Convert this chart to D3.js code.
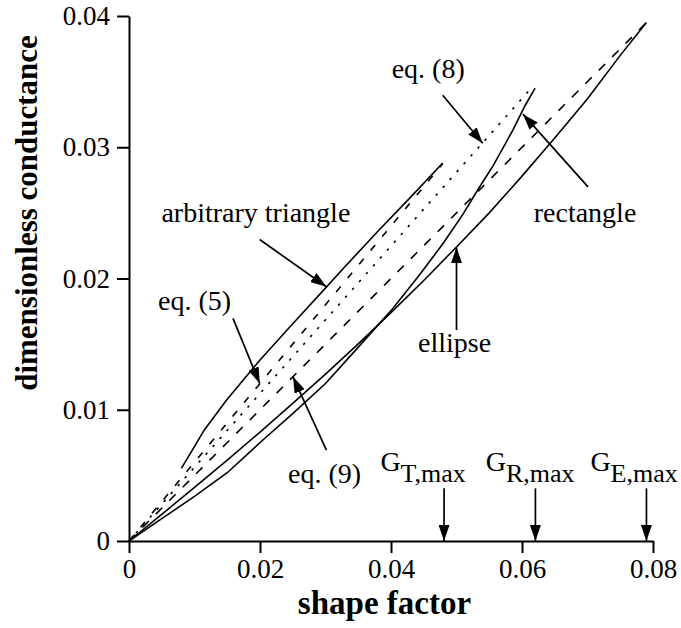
<!DOCTYPE html>
<html>
<head>
<meta charset="utf-8">
<script src="https://cdn.jsdelivr.net/npm/d3@7"></script>
<style>
  body { margin: 0; background: #fff; }
  svg text { font-family: "Liberation Serif", "Times New Roman", "DejaVu Serif", serif; fill: #000; }
</style>
</head>
<body>
<svg id="chart" width="681" height="628"></svg>
<script>
// shape factor G vs dimensionless conductance g
const xTicks = [0, 0.02, 0.04, 0.06, 0.08];
const yTicks = [0, 0.01, 0.02, 0.03, 0.04];

// arbitrary triangle (upper bound), solid
const triG = [0.0080, 0.0115, 0.0149, 0.0200, 0.0250, 0.0302, 0.0325, 0.0380, 0.0430, 0.0479];
const triC = [0.00554, 0.00846, 0.01074, 0.01379, 0.01655, 0.01938, 0.02065, 0.0236, 0.0262, 0.0288];

// ellipse, solid
const ellG = [0, 0.005, 0.010, 0.015, 0.020, 0.025, 0.030, 0.035, 0.040, 0.045, 0.050, 0.055, 0.060, 0.065, 0.070, 0.075, 0.0790];
const ellC = [0, 0.00203, 0.00408, 0.00617, 0.0083, 0.01048, 0.01272, 0.01502, 0.0174, 0.01985, 0.0224, 0.0250, 0.0278, 0.0307, 0.0337, 0.0370, 0.0395];

// rectangle, solid
const recG = [0, 0.005, 0.010, 0.015, 0.0207, 0.025, 0.030, 0.0347, 0.040, 0.0444, 0.048, 0.0510, 0.0533, 0.0556, 0.0586, 0.0605, 0.0620];
const recC = [0, 0.0017, 0.0034, 0.0052, 0.00781, 0.0097, 0.0120, 0.0146, 0.01755, 0.0203, 0.0227, 0.0249, 0.0268, 0.0286, 0.0313, 0.0332, 0.0345];

// straight correlations
const eq5G = [0, 0.0479], eq5C = [0, 0.02874];
const eq8G = [0, 0.0614], eq8C = [0, 0.0345];
const eq9G = [0, 0.0790], eq9C = [0, 0.0395];

// labels with arrows: text anchor point, arrow start, arrow tip (data units)
const labelText = ["eq. (8)", "arbitrary triangle", "eq. (5)", "eq. (9)", "rectangle", "ellipse"];
const labelAt = [[0.0401, 0.03526], [0.00495, 0.02431], [0.00443, 0.01759], [0.02427, 0.00439], [0.06179, 0.02432], [0.04412, 0.01442]];
const arrowFrom = [[0.0479, 0.03396], [0.01995, 0.02297], [0.01588, 0.01696], [0.03014, 0.00693], [0.07008, 0.02698], [0.0500, 0.01607]];
const arrowTo = [[0.0540, 0.03031], [0.03014, 0.01937], [0.01995, 0.01201], [0.02504, 0.01251], [0.06015, 0.03252], [0.0500, 0.02239]];

// maximum shape factors marked on the axis
const gMaxSub = ["T,max", "R,max", "E,max"];
const gMaxAt = [0.0481, 0.06205, 0.0790];
const gMaxLabelX = [0.03838, 0.05446, 0.07044];

const svg = d3.select("#chart");
const x = d3.scaleLinear().domain([0, 0.08]).range([129, 653]);
const y = d3.scaleLinear().domain([0, 0.04]).range([541, 16]);
const fmt = d => d === 0 ? "0" : d3.format(".2f")(d);

svg.append("defs").append("marker")
  .attr("id", "head")
  .attr("viewBox", "0 -5.5 16 11")
  .attr("refX", 16).attr("refY", 0)
  .attr("markerWidth", 16).attr("markerHeight", 11)
  .attr("markerUnits", "userSpaceOnUse")
  .attr("orient", "auto")
  .append("path").attr("d", "M0,-5.5L16,0L0,5.5Z").attr("fill", "#000");

// axes
const xAxis = svg.append("g")
  .attr("transform", "translate(0," + y(0) + ")")
  .call(d3.axisBottom(x).tickValues(xTicks).tickSizeInner(12).tickSizeOuter(0).tickPadding(6).tickFormat(fmt));
const yAxis = svg.append("g")
  .attr("transform", "translate(" + x(0) + ",0)")
  .call(d3.axisLeft(y).tickValues(yTicks).tickSizeInner(12).tickSizeOuter(0).tickPadding(7).tickFormat(fmt));

[xAxis, yAxis].forEach(a => {
  a.attr("font-family", null).attr("font-size", null);
  a.selectAll("path, line").attr("stroke", "#000").attr("stroke-width", 2);
  a.selectAll("text").style("font-size", "27px");
});

svg.append("text")
  .attr("x", x(0.039)).attr("y", 614)
  .attr("text-anchor", "middle")
  .style("font-size", "33px").style("font-weight", "bold")
  .text("shape factor");

svg.append("text")
  .attr("transform", "translate(37,213) rotate(-90)")
  .attr("text-anchor", "middle")
  .style("font-size", "31px").style("font-weight", "bold")
  .text("dimensionless conductance");

// curves
const line = d3.line().x(d => x(d[0])).y(d => y(d[1]));
const series = [
  [triG, triC, null],
  [ellG, ellC, null],
  [recG, recC, null],
  [eq5G, eq5C, "7,11"],
  [eq8G, eq8C, "2.5,8"],
  [eq9G, eq9C, "9,10"]
];
series.forEach(s => {
  svg.append("path")
    .datum(d3.zip(s[0], s[1]))
    .attr("d", line)
    .attr("fill", "none")
    .attr("stroke", "#000")
    .attr("stroke-width", 1.6)
    .attr("stroke-dasharray", s[2]);
});

// labelled arrows
labelText.forEach((t, i) => {
  svg.append("line")
    .attr("x1", x(arrowFrom[i][0])).attr("y1", y(arrowFrom[i][1]))
    .attr("x2", x(arrowTo[i][0])).attr("y2", y(arrowTo[i][1]))
    .attr("stroke", "#000").attr("stroke-width", 1.7)
    .attr("marker-end", "url(#head)");
  svg.append("text")
    .attr("x", x(labelAt[i][0])).attr("y", y(labelAt[i][1]))
    .style("font-size", "28px")
    .text(t);
});

// G max markers
gMaxAt.forEach((g, i) => {
  svg.append("line")
    .attr("x1", x(g)).attr("y1", y(0.00401))
    .attr("x2", x(g)).attr("y2", y(0))
    .attr("stroke", "#000").attr("stroke-width", 1.7)
    .attr("marker-end", "url(#head)");
  const t = svg.append("text")
    .attr("x", x(gMaxLabelX[i])).attr("y", y(0.00535))
    .style("font-size", "28px");
  t.append("tspan").text("G");
  t.append("tspan").attr("dy", 11).style("font-size", "26px").text(gMaxSub[i]);
});
</script>
</body>
</html>
